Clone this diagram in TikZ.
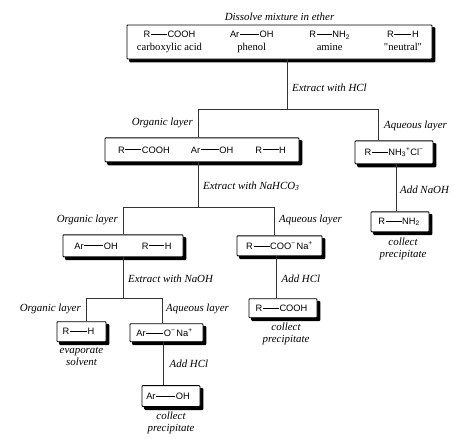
\documentclass[tikz,border=0pt]{standalone}
\usepackage{fontspec}
\setmainfont{Liberation Serif}
\setsansfont{Liberation Sans}
\newfontfamily\nmfont{Liberation Serif}
\usetikzlibrary{positioning}
\tikzset{
  box/.style={rectangle,draw,fill=white,rounded corners=0.8pt,align=center,inner sep=0pt,line width=0.9pt,
    font=\fontsize{9.3}{11}\selectfont\sffamily,
    preaction={draw,fill=black,line width=1.2pt,transform canvas={xshift=2.8pt,yshift=-2.8pt}}},
  lab/.style={inner sep=0pt,font=\fontsize{10.9}{12}\selectfont\itshape},
  capt/.style={inner sep=0pt,align=center,font=\fontsize{10.9}{12}\selectfont\itshape},
  line/.style={line width=0.9pt,black!80}
}
\newcommand{\bond}[1]{\kern0.6pt\rule[3pt]{#1}{0.7pt}\kern0.6pt}
\newcommand{\nm}[1]{\fontsize{10.6}{12}\selectfont\nmfont #1}

\begin{document}
\begin{tikzpicture}[x=1pt,y=1pt]
\useasboundingbox (0,0) rectangle (474,-439);
\node[box, minimum width=305pt, minimum height=34pt] (top) at (279.5,-42) {%
  \begin{tabular}{@{}c@{\hspace{28pt}}c@{\hspace{36pt}}c@{\hspace{34pt}}c@{}}
  R\bond{16pt}COOH & Ar\bond{19pt}OH & R\bond{15pt}NH\textsubscript{2} & R\bond{17pt}H\\[1.5pt]
  \nm{carboxylic acid} & \nm{phenol} & \nm{amine} & \nm{"neutral"}
  \end{tabular}};
\node[lab, above=4pt of top] (ttl) {Dissolve mixture in ether};
\coordinate[below=50pt of top.south, xshift=7.5pt] (split1);
\node[box, minimum width=194pt, minimum height=24pt, below=28pt of split1, xshift=-85pt] (mix)
  {R\bond{16pt}COOH\hspace{21pt}Ar\bond{18pt}OH\hspace{22pt}R\bond{16pt}H};
\node[box, minimum width=78pt, minimum height=23pt, below=31pt of split1, xshift=107pt] (amm)
  {R\bond{16pt}NH\textsubscript{3}\textsuperscript{+}Cl\textsuperscript{−}};
\node[box, minimum width=58pt, minimum height=20pt, below=47pt of amm.south, xshift=6pt] (amine)
  {R\bond{16pt}NH\textsubscript{2}\hspace{2pt}};
\coordinate[below=45pt of mix.south, xshift=-4pt] (split2);
\node[box, minimum width=120pt, minimum height=22pt, below=27pt of split2, xshift=-75pt] (phn)
  {Ar\bond{19pt}OH\hspace{24pt}R\bond{15pt}H};
\node[box, minimum width=85pt, minimum height=20pt, below=28pt of split2, xshift=81.5pt] (carb)
  {R\bond{16pt}COO\textsuperscript{−}\kern1pt Na\textsuperscript{+}};
\node[box, minimum width=68pt, minimum height=19pt, below=42pt of carb.south, xshift=3.5pt] (acid)
  {R\bond{16pt}COOH\hspace{3pt}};
\coordinate[below=41pt of phn.south] (split3);
\node[box, minimum width=49pt, minimum height=20pt, below=23pt of split3, xshift=-41.5pt] (neu)
  {R\bond{17pt}H\hspace{6pt}};
\node[box, minimum width=73pt, minimum height=18pt, below=25pt of split3, xshift=43.5pt] (phs)
  {Ar\bond{17pt}O\textsuperscript{−}\kern1pt Na\textsuperscript{+}\hspace{4pt}};
\node[box, minimum width=58pt, minimum height=21pt, below=43pt of phs.south, xshift=4.5pt] (phl)
  {Ar\bond{19pt}OH\hspace{6pt}};
% captions under the boxes
\node[capt, below=5pt of amine, xshift=3pt] (capa) {collect\\precipitate};
\node[capt, below=5pt of acid, xshift=3pt] (capb) {collect\\precipitate};
\node[capt, below=5pt of neu] (capc) {evaporate\\solvent};
\node[capt, below=5pt of phl] (capd) {collect\\precipitate};
% connectors
\draw[line] (split1 |- top.south) -- (split1);
\draw[line] ([xshift=-4pt]mix.north) |- (split1) -| ([xshift=-15.3pt]amm.north);
\draw[line] ([xshift=2pt]amm.south) -- ([xshift=-4pt]amine.north);
\draw[line] (split2 |- mix.south) -- (split2);
\draw[line] (phn.north) |- (split2) -| ([xshift=-5.5pt]carb.north);
\draw[line] ([xshift=-3.5pt]carb.south) -- ([xshift=-7pt]acid.north);
\draw[line] (split3 |- phn.south) -- (split3);
\draw[line] ([xshift=4.5pt]neu.north) |- (split3) -| ([xshift=-4.5pt]phs.north);
\draw[line] ([xshift=-3.5pt]phs.south) -- ([xshift=-8pt]phl.north);
% labels on the branches
\node[lab, right=5pt of split1, yshift=22pt] (xa) {Extract with HCl};
\node[lab, left=5pt of split1, xshift=-89pt, yshift=-13pt] (orga) {Organic layer};
\node[lab, right=97pt of split1, yshift=-16pt] (aqa) {Aqueous layer};
\node[lab, right=5pt of split2, yshift=21pt] (xb) {Extract with NaHCO\textsubscript{3}};
\node[lab, left=80pt of split2, yshift=-13pt] (orgb) {Organic layer};
\node[lab, right=81pt of split2, yshift=-13pt] (aqb) {Aqueous layer};
\node[lab, right=5pt of split3, yshift=19pt] (xc) {Extract with NaOH};
\node[lab, left=42pt of split3, yshift=-11pt] (orgc) {Organic layer};
\node[lab, right=43pt of split3, yshift=-11pt] (aqc) {Aqueous layer};
\node[lab, right=4pt of phs.south, xshift=-1pt, yshift=-22pt] (ha) {Add HCl};
\node[lab, right=3pt of carb.south, xshift=-1pt, yshift=-23pt] (hb) {Add HCl};
\node[lab, right=4pt of amm.south, xshift=2pt, yshift=-25pt] (na) {Add NaOH};
\end{tikzpicture}
\end{document}
